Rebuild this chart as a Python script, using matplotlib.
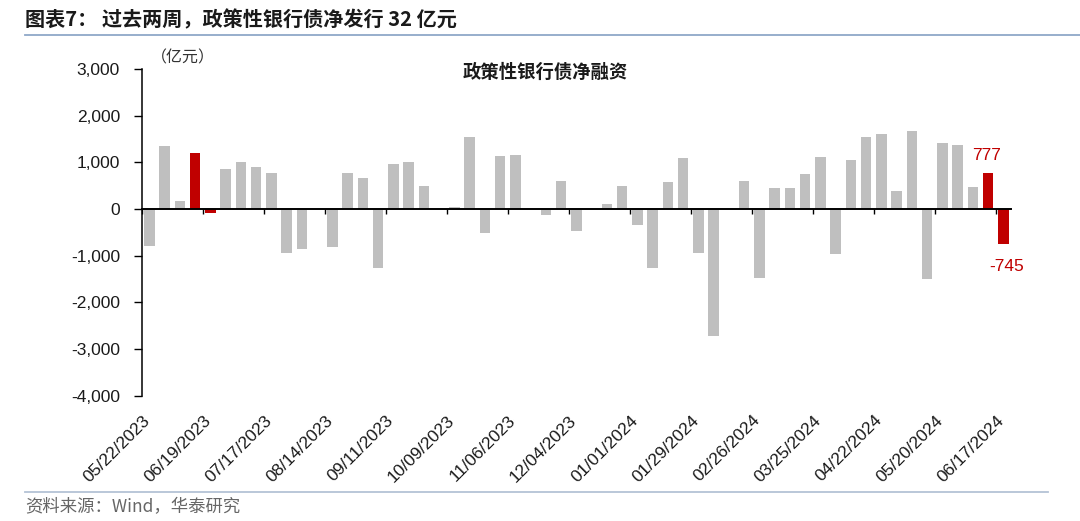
import numpy as np
import matplotlib
matplotlib.use('Agg')
import matplotlib.pyplot as plt
import matplotlib.transforms as mtransforms
from matplotlib.lines import Line2D
from matplotlib.ticker import FuncFormatter

# weekly net financing of policy bank bonds (100 mn yuan), 05/22/2023 .. 06/17/2024
values = [-800, 1350, 170, 1190, -85, 860, 1005, 900, 765, -945,
          -865, 0, -805, 765, 670, -1270, 965, 1005, 485, 0,
          40, 1535, -505, 1135, 1150, 0, -135, 605, -465, 0,
          105, 500, -335, -1270, 580, 1085, -945, -2730, 0, 595,
          -1485, 450, 450, 755, 1115, -955, 1040, 1535, 1615, 385,
          1665, -1505, 1415, 1370, 470, 777, -745]
highlight = [3, 4, 55, 56]
date_labels = ['05/22/2023', '06/19/2023', '07/17/2023', '08/14/2023', '09/11/2023',
               '10/09/2023', '11/06/2023', '12/04/2023', '01/01/2024', '01/29/2024',
               '02/26/2024', '03/25/2024', '04/22/2024', '05/20/2024', '06/17/2024']

GRAY = '#BFBFBF'
RED = '#C00000'
CJK = ['Noto Sans CJK SC', 'DejaVu Sans']
plt.rcParams['font.family'] = ['Liberation Sans', 'DejaVu Sans']

fig = plt.figure(figsize=(10.8, 5.21), dpi=100)
ax = fig.add_axes([0.1312, 0.2405, 0.8049, 0.6271])

x = np.arange(len(values))
colors = [RED if i in highlight else GRAY for i in x]
ax.bar(x, values, width=0.68, color=colors, zorder=2)

ax.set_xlim(-0.5, len(values) - 0.5)
ax.set_ylim(-4000, 3000)
ax.set_yticks(range(-4000, 3001, 1000))
ax.yaxis.set_major_formatter(FuncFormatter(lambda v, p: f'{v:,.0f}'))

for s in ['top', 'right']:
    ax.spines[s].set_visible(False)
ax.spines['left'].set_linewidth(1.1)
ax.spines['bottom'].set_position(('data', 0))
ax.spines['bottom'].set_linewidth(1.4)
ax.spines['bottom'].set_zorder(3)

tick_pos = np.arange(-0.5, len(values) - 1, 4)
ax.set_xticks(tick_pos)
ax.tick_params(axis='x', direction='out', length=3.6, width=1.0, labelbottom=False)
ax.tick_params(axis='y', direction='out', length=5.8, width=1.0, pad=9.8,
               labelsize=12.5, labelcolor='#1a1a1a')

# date labels at the bottom of the plot area
blend = mtransforms.blended_transform_factory(ax.transData, ax.transAxes)
offset = mtransforms.ScaledTranslation(4 / 72, -16 / 72, fig.dpi_scale_trans)
for pos, lab in zip(tick_pos, date_labels):
    ax.text(pos, 0, lab, transform=blend + offset, rotation=45, ha='right',
            va='center', rotation_mode='anchor', fontsize=12.5, color='#1a1a1a')

# value labels on the last two weeks
ax.annotate(f'{values[55]:,}', (x[55], values[55]), xytext=(-1, 12.5),
            textcoords='offset points', ha='center', va='center',
            fontsize=12.5, color=RED)
ax.annotate(f'{values[56]:,}', (x[56], values[56]), xytext=(2, -16.5),
            textcoords='offset points', ha='center', va='center',
            fontsize=12.5, color=RED)

# texts
fig.text(25 / 1080, 1 - 20 / 521, '图表7： 过去两周，政策性银行债净发行 32 亿元',
         fontsize=14.5, fontweight='bold', family=CJK, va='center', color='#1a1a1a')
fig.text(183 / 1080, 1 - 58 / 521, '（亿元）', fontsize=11.5, family=CJK,
         va='center', ha='center', color='#333333')
fig.text(545 / 1080, 1 - 72 / 521, '政策性银行债净融资', fontsize=13.2,
         fontweight='bold', family=CJK, va='center', ha='center', color='#1a1a1a')
fig.text(25 / 1080, 1 - 507 / 521, '资料来源：Wind，华泰研究', fontsize=12.5,
         family=CJK, va='center', color='#666666')

fig.add_artist(Line2D([25 / 1080, 1.0], [1 - 35 / 521] * 2, color='#8FA8C8', lw=1.3))
fig.add_artist(Line2D([25 / 1080, 1048 / 1080], [1 - 492 / 521] * 2, color='#B4C3D6', lw=1.3))

fig.savefig('out.png', dpi=100)
